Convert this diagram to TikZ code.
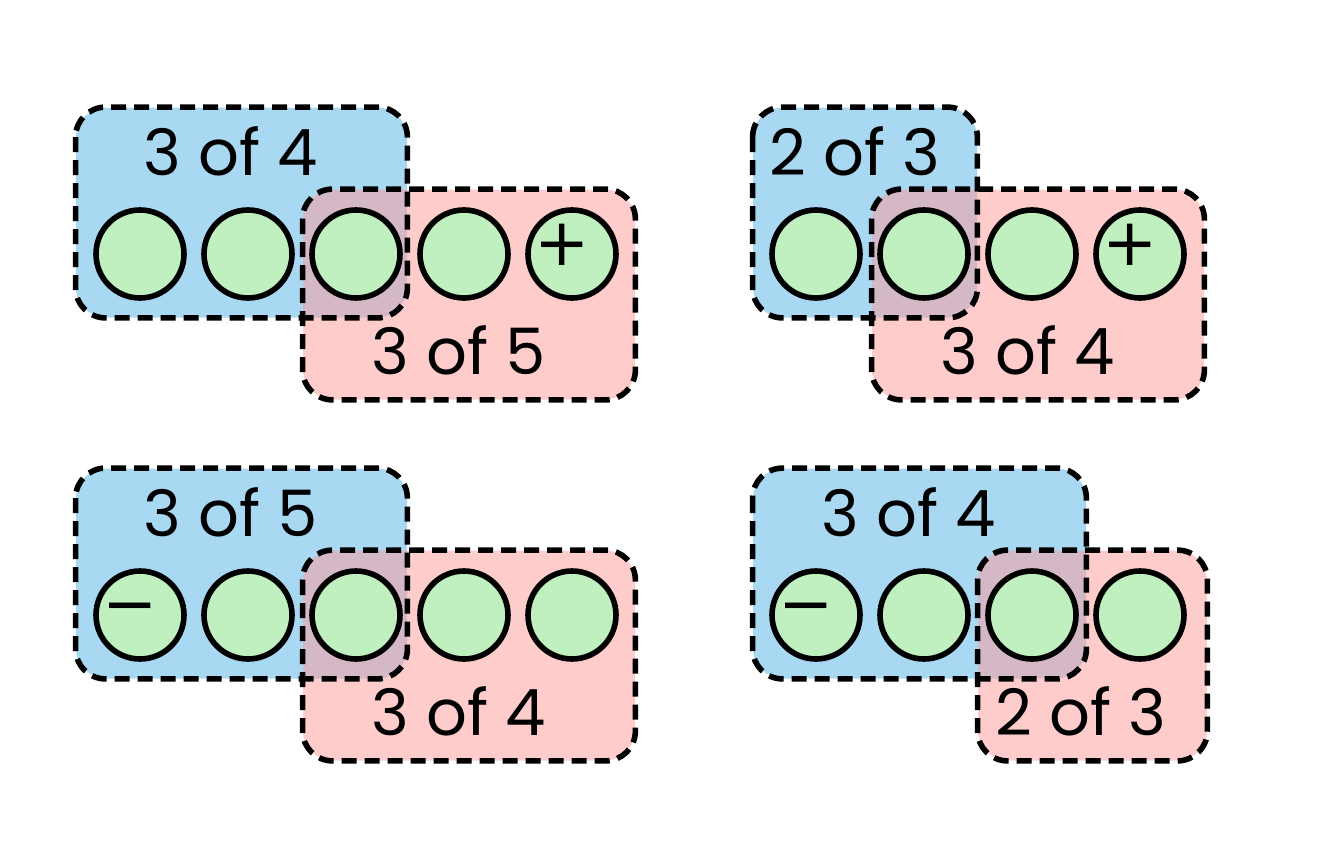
\documentclass[tikz,border=0pt]{standalone}
\usepackage{fontspec}
\setmainfont{Poppins}
\newfontfamily\signfont{DejaVu Sans}
\usetikzlibrary{positioning, calc}
\definecolor{setblue}{RGB}{169, 217, 242}
\definecolor{setred}{RGB}{255, 153, 153}
\definecolor{tokengreen}{RGB}{192, 240, 192}

\begin{document}
\begin{tikzpicture}[x=0.5pt, y=-0.5pt,
        setfill/.style={rectangle, rounded corners=15pt, inner sep=0pt, minimum height=105pt},
        setline/.style={draw=black, line width=2.8pt, dash pattern=on 7.5pt off 4pt, rounded corners=15pt},
        token/.style={circle, draw=black, line width=2.8pt, fill=tokengreen, minimum size=44pt, inner sep=0pt},
        count/.style={font=\fontsize{32}{32}\selectfont, inner sep=0pt, anchor=base},
        sign/.style={font=\signfont\fontsize{33}{33}\selectfont, inner sep=0pt, anchor=base}]

        \useasboundingbox (0,0) rectangle (1318,846);

        % Top left: 3 of 4 and 3 of 5
        \node[setfill, fill=setblue, minimum width=165.5pt] (tlA) at (241.5,212.5) {};
        \node[setfill, fill=setred, fill opacity=0.5, minimum width=166pt] (tlB) at (469,294.5) {};

        % Top right: 2 of 3 and 3 of 4
        \node[setfill, fill=setblue, minimum width=112pt] (trA) at (865,212.5) {};
        \node[setfill, fill=setred, fill opacity=0.5, minimum width=166pt] (trB) at (1038,294.5) {};

        % Bottom left: 3 of 5 and 3 of 4
        \node[setfill, fill=setblue, minimum width=165.5pt] (blA) at (241.5,573.5) {};
        \node[setfill, fill=setred, fill opacity=0.5, minimum width=166pt] (blB) at (469,655.5) {};

        % Bottom right: 3 of 4 and 2 of 3
        \node[setfill, fill=setblue, minimum width=166.5pt] (brA) at (919.5,573.5) {};
        \node[setfill, fill=setred, fill opacity=0.5, minimum width=114.5pt] (brB) at (1092.5,655.5) {};

        % Dashed borders on top of both fills
        \foreach \n in {tlA, tlB, trA, trB, blA, blB, brA, brB} {
            \draw[setline] (\n.north west) rectangle (\n.south east);
        }

        % Tokens
        \foreach \x [count=\i] in {140, 248, 356, 464, 572} {
            \node[token] (tl\i) at (\x,254) {};
            \node[token] (bl\i) at (\x,615) {};
        }
        \foreach \x [count=\i] in {816, 924, 1032, 1140} {
            \node[token] (tr\i) at (\x,254) {};
            \node[token] (br\i) at (\x,615) {};
        }

        % Signs
        \node[sign] (tlplus) at ([shift={(-10,11)}]tl5.center) {+};
        \node[sign] (trplus) at ([shift={(-10,11)}]tr4.center) {+};
        \node[sign] (blminus) at ([shift={(-10,11)}]bl1.center) {−};
        \node[sign] (brminus) at ([shift={(-10,11)}]br1.center) {−};

        % Counts
        \node[count] (tlAlabel) at (231,175) {3 of 4};
        \node[count] (tlBlabel) at (459,374) {3 of 5};
        \node[count] (trAlabel) at (855,175) {2 of 3};
        \node[count] (trBlabel) at (1028,374) {3 of 4};
        \node[count] (blAlabel) at (231,536) {3 of 5};
        \node[count] (blBlabel) at (459,735) {3 of 4};
        \node[count] (brAlabel) at (909,536) {3 of 4};
        \node[count] (brBlabel) at (1081,735) {2 of 3};
    \end{tikzpicture}
\end{document}
